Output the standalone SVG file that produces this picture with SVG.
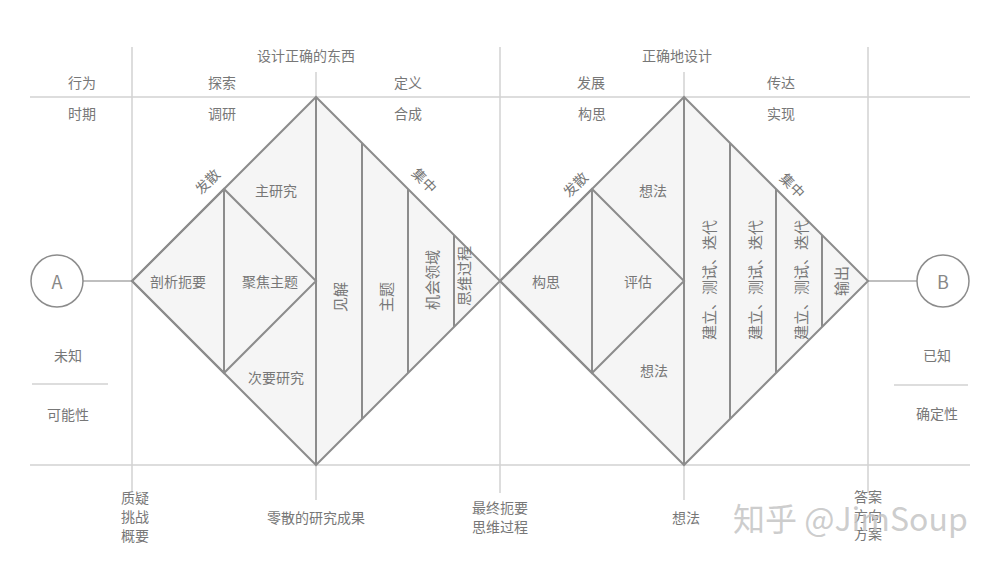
<svg xmlns="http://www.w3.org/2000/svg" width="1000" height="563" viewBox="0 0 1000 563">
<style>
.grid{stroke:#d2d2d2;stroke-width:1.5;fill:none}
.dia{stroke:#8c8c8c;stroke-width:2;fill:#f5f5f5;stroke-linejoin:miter}
.in{stroke:#8c8c8c;stroke-width:2;fill:none}
text{font-family:"Noto Sans CJK SC","Noto Sans",sans-serif;font-size:14px;fill:#777;text-anchor:middle;dominant-baseline:central}
.sm{font-size:14px}
.vt{font-size:15px}
.circ{stroke:#8c8c8c;stroke-width:1.5;fill:#fff}
.wm{font-size:32px;fill:#c4c4c4;fill-opacity:0.85;text-anchor:start;dominant-baseline:alphabetic}
.big{font-size:18px;fill:#888}
</style>
<rect width="1000" height="563" fill="#fff"/>
<g id="grid">
<line class="grid" x1="30" y1="97" x2="970" y2="97"/>
<line class="grid" x1="30" y1="465" x2="970" y2="465"/>
<line class="grid" x1="132" y1="47" x2="132" y2="492"/>
<line class="grid" x1="500" y1="47" x2="500" y2="493"/>
<line class="grid" x1="868" y1="47" x2="868" y2="493"/>
<line class="grid" x1="316" y1="72" x2="316" y2="97"/>
<line class="grid" x1="684" y1="72" x2="684" y2="97"/>
<line class="grid" x1="316" y1="465" x2="316" y2="500"/>
<line class="grid" x1="684" y1="465" x2="684" y2="500"/>
<line class="grid" x1="32" y1="384" x2="108" y2="384"/>
<line class="grid" x1="894" y1="385" x2="968" y2="385"/>
</g>
<g id="header">
<text x="306" y="55">设计正确的东西</text>
<text x="677" y="55">正确地设计</text>
<text x="82" y="82">行为</text>
<text x="222" y="82">探索</text>
<text x="408" y="82">定义</text>
<text x="591" y="82">发展</text>
<text x="781" y="82">传达</text>
<text x="82" y="113">时期</text>
<text x="222" y="113">调研</text>
<text x="408" y="113">合成</text>
<text x="592" y="113">构思</text>
<text x="781" y="113">实现</text>
</g>
<g id="connectors">
<line class="grid" x1="83" y1="281" x2="132" y2="281" style="stroke:#aaa"/>
<line class="grid" x1="868" y1="281" x2="917" y2="281" style="stroke:#aaa"/>
</g>
<g id="node-A">
<circle class="circ" cx="57" cy="281" r="26"/>
<text class="big" x="57" y="281">A</text>
<text x="68" y="355">未知</text>
<text x="68" y="414">可能性</text>
</g>
<g id="node-B">
<circle class="circ" cx="943" cy="281" r="26"/>
<text class="big" x="943" y="281">B</text>
<text x="937" y="355">已知</text>
<text x="937" y="413">确定性</text>
</g>
<g id="diamond-left">
<polygon class="dia" points="132,281 316,97 500,281 316,465"/>
<polygon class="in" points="132,281 224,189 316,281 224,373"/>
<line class="in" x1="224" y1="189" x2="224" y2="373"/>
<line class="in" x1="316" y1="97" x2="316" y2="465"/>
<line class="in" x1="362" y1="143" x2="362" y2="419"/>
<line class="in" x1="408" y1="189" x2="408" y2="373"/>
<line class="in" x1="454" y1="235" x2="454" y2="327"/>
<text class="sm" transform="translate(207,181) rotate(-45)">发散</text>
<text class="sm" transform="translate(425,180) rotate(45)">集中</text>
<text x="276" y="190">主研究</text>
<text x="178" y="281">剖析扼要</text>
<text x="270" y="281">聚焦主题</text>
<text x="276" y="377">次要研究</text>
<text class="vt" transform="translate(339,297) rotate(-90)">见解</text>
<text class="vt" transform="translate(385,297) rotate(-90)">主题</text>
<text class="vt" transform="translate(431,280) rotate(-90)">机会领域</text>
<text class="vt" transform="translate(463,276) rotate(-90)">思维过程</text>
</g>
<g id="diamond-right">
<polygon class="dia" points="500,281 684,97 868,281 684,465"/>
<polygon class="in" points="500,281 592,189 684,281 592,373"/>
<line class="in" x1="592" y1="189" x2="592" y2="373"/>
<line class="in" x1="684" y1="97" x2="684" y2="465"/>
<line class="in" x1="730" y1="143" x2="730" y2="419"/>
<line class="in" x1="776" y1="189" x2="776" y2="373"/>
<line class="in" x1="822" y1="235" x2="822" y2="327"/>
<text class="sm" transform="translate(575,184) rotate(-45)">发散</text>
<text class="sm" transform="translate(793,185) rotate(45)">集中</text>
<text x="653" y="190">想法</text>
<text x="546" y="281">构思</text>
<text x="638" y="281">评估</text>
<text x="654" y="370">想法</text>
<text class="vt" transform="translate(708,280) rotate(-90)">建立、测试、迭代</text>
<text class="vt" transform="translate(754,280) rotate(-90)">建立、测试、迭代</text>
<text class="vt" transform="translate(800,280) rotate(-90)">建立、测试、迭代</text>
<text class="vt" transform="translate(840,281) rotate(-90)">输出</text>
</g>
<g id="footer">
<text x="135" y="497">质疑</text>
<text x="135" y="516">挑战</text>
<text x="135" y="535">概要</text>
<text x="316" y="517">零散的研究成果</text>
<text x="500" y="507">最终扼要</text>
<text x="500" y="526">思维过程</text>
<text x="686" y="517">想法</text>
<text x="868" y="496">答案</text>
<text x="868" y="515">方向</text>
<text x="868" y="533">方案</text>
</g>
<text class="wm" x="733" y="531">知乎 @JimSoup</text>
</svg>
